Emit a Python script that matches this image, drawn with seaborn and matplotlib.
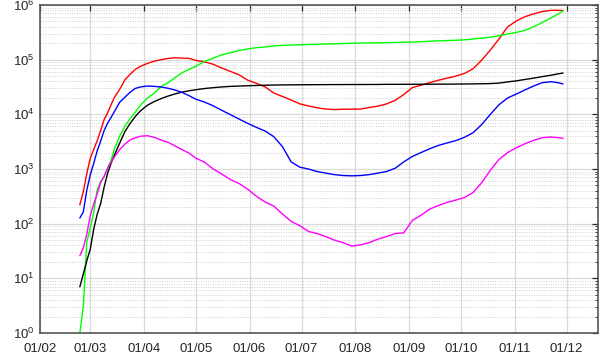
import numpy as np
import pandas as pd
import matplotlib
matplotlib.use("Agg")
import matplotlib.pyplot as plt
import matplotlib.dates as mdates
from matplotlib.ticker import LogLocator, NullFormatter
import seaborn as sns

# ============================================================
# DATA
# ============================================================

dates = [
    "2020-02-24", "2020-02-26", "2020-02-28", "2020-03-01", "2020-03-03",
    "2020-03-05", "2020-03-07", "2020-03-09", "2020-03-11", "2020-03-13",
    "2020-03-15", "2020-03-18", "2020-03-21", "2020-03-24", "2020-03-27",
    "2020-03-30", "2020-04-03", "2020-04-07", "2020-04-11", "2020-04-15",
    "2020-04-19", "2020-04-23", "2020-04-27", "2020-05-01", "2020-05-06",
    "2020-05-11", "2020-05-16", "2020-05-21", "2020-05-26", "2020-05-31",
    "2020-06-05", "2020-06-10", "2020-06-15", "2020-06-20", "2020-06-25",
    "2020-06-30", "2020-07-05", "2020-07-10", "2020-07-15", "2020-07-20",
    "2020-07-25", "2020-07-30", "2020-08-04", "2020-08-09", "2020-08-14",
    "2020-08-19", "2020-08-24", "2020-08-29", "2020-09-03", "2020-09-08",
    "2020-09-13", "2020-09-18", "2020-09-23", "2020-09-28", "2020-10-03",
    "2020-10-08", "2020-10-13", "2020-10-18", "2020-10-23", "2020-10-28",
    "2020-11-02", "2020-11-07", "2020-11-12", "2020-11-17", "2020-11-22",
    "2020-11-26", "2020-11-29",
]

# red: currently positive
positives = [
    221, 385, 821, 1577, 2263, 3296, 5061, 7985, 10590, 14955,
    20603, 28710, 42681, 54030, 66414, 75528, 85388, 94067, 100269, 105418,
    108257, 106848, 105813, 97000, 91528, 82488, 70187, 60960, 52764, 42075,
    36976, 31710, 24569, 21212, 18303, 15563, 14242, 13179, 12493, 12248,
    12404, 12456, 12474, 13368, 14081, 15500, 18000, 23000, 31000, 34000,
    38000, 42000, 46000, 50000, 56000, 68000, 98000, 150000, 240000, 400000,
    510000, 612000, 690000, 760000, 800000, 800000, 795000,
]

# green: recovered
recovered = [
    1, 3, 46, 83, 160, 414, 589, 724, 1045, 1439,
    2335, 4025, 6072, 8326, 10950, 14620, 19758, 24392, 32534, 38092,
    47055, 57576, 66624, 75945, 93245, 106587, 122810, 134560, 147101, 157507,
    165837, 170630, 178526, 182893, 185015, 187615, 189441, 191083, 193640, 195106,
    197628, 199974, 201642, 202248, 203786, 204960, 206902, 208536, 210436, 213191,
    217716, 221000, 224000, 226500, 231000, 239000, 248000, 258000, 275000, 295000,
    315000, 345000, 400000, 480000, 580000, 680000, 785000,
]

# black: deaths
deaths = [
    7, 12, 21, 34, 79, 148, 233, 463, 827, 1266,
    1809, 2978, 4825, 6820, 9134, 11591, 14681, 17127, 19468, 21645,
    23660, 25549, 26977, 28236, 29684, 30739, 31763, 32486, 32955, 33415,
    33774, 34114, 34371, 34561, 34678, 34767, 34861, 34926, 34997, 35058,
    35102, 35132, 35171, 35205, 35234, 35412, 35441, 35477, 35507, 35553,
    35610, 35658, 35738, 35835, 35941, 36083, 36289, 36543, 37300, 39300,
    41000, 43500, 46000, 49000, 52000, 55000, 57000,
]

# blue: hospitalised
hospitalised = [
    127, 164, 409, 779, 1263, 2141, 3218, 5049, 6866, 8754,
    11335, 16620, 20565, 25333, 29761, 31776, 33017, 32510, 31636, 29972,
    27847, 25227, 22021, 18935, 16766, 14311, 11837, 9838, 8187, 6817,
    5765, 4950, 3900, 2560, 1350, 1080, 1000, 900, 840, 790,
    760, 750, 760, 790, 840, 900, 1030, 1350, 1700, 2000,
    2350, 2700, 3000, 3300, 3800, 4600, 6500, 10000, 15000, 20000,
    23500, 28000, 33000, 38000, 39500, 38000, 36000,
]

# magenta: intensive care
intensive_care = [
    26, 36, 64, 140, 229, 351, 567, 733, 1028, 1328,
    1672, 2257, 2857, 3396, 3732, 3981, 4068, 3792, 3381, 3079,
    2635, 2267, 1956, 1578, 1333, 999, 808, 640, 541, 424,
    316, 249, 210, 150, 110, 92, 72, 66, 58, 50,
    45, 39, 41, 45, 52, 58, 66, 68, 115, 143,
    185, 215, 245, 270, 300, 370, 560, 950, 1500, 2000,
    2450, 2900, 3350, 3750, 3850, 3750, 3650,
]

series_colors = {
    "positives": "#ff0000",
    "recovered": "#00ff00",
    "deaths": "#000000",
    "hospitalised": "#0000ff",
    "intensive_care": "#ff00ff",
}

df = pd.DataFrame({
    "date": pd.to_datetime(dates),
    "positives": positives,
    "recovered": recovered,
    "deaths": deaths,
    "hospitalised": hospitalised,
    "intensive_care": intensive_care,
})
long_df = df.melt(id_vars="date", var_name="series", value_name="value")

# ============================================================
# PLOT
# ============================================================

sns.set_style("white")
plt.rcParams["font.family"] = ["Liberation Sans", "DejaVu Sans"]
plt.rcParams["mathtext.fontset"] = "custom"
plt.rcParams["mathtext.rm"] = "Liberation Sans"
plt.rcParams["mathtext.it"] = "Liberation Sans:italic"

fig = plt.figure(figsize=(6.08, 3.62), dpi=100)
ax = fig.add_axes([0.0658, 0.0801, 0.9173, 0.906])

sns.lineplot(data=long_df, x="date", y="value", hue="series",
             hue_order=list(series_colors), palette=series_colors,
             linewidth=1.0, legend=False, estimator=None, ax=ax)

ax.set_yscale("log")
ax.set_ylim(1, 1e6)
ax.set_xlim(pd.Timestamp("2020-02-01"), pd.Timestamp("2020-12-19"))

ax.xaxis.set_major_locator(mdates.MonthLocator())
ax.xaxis.set_major_formatter(mdates.DateFormatter("%d/%m"))
ax.yaxis.set_major_locator(LogLocator(base=10, numticks=10))
ax.yaxis.set_minor_locator(LogLocator(base=10, subs=np.arange(2, 10), numticks=20))
ax.yaxis.set_minor_formatter(NullFormatter())

ax.grid(which="major", color="#d9d9d9", linewidth=0.9, linestyle="-")
ax.grid(which="minor", axis="y", color="#d0d0d0", linewidth=0.7, linestyle=(0, (1, 1.5)))
ax.set_axisbelow(True)

ax.tick_params(which="both", direction="in", top=True, right=True,
               colors="#262626", labelsize=9.5)
ax.tick_params(which="major", length=4, width=0.9)
ax.tick_params(axis="x", which="major", pad=7)
ax.tick_params(axis="y", which="major", pad=4)
ax.tick_params(which="minor", length=2.5, width=0.6)

for spine in ax.spines.values():
    spine.set_color("#555555")
    spine.set_linewidth(1.2)

ax.set_xlabel("")
ax.set_ylabel("")

plt.savefig("out.png", dpi=100)
